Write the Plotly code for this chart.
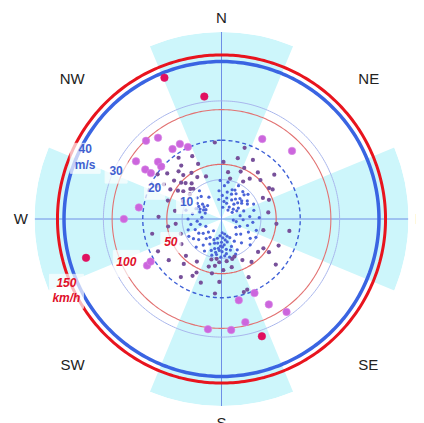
import numpy as np
import plotly.graph_objects as go

# compass labels and the four shaded sectors
compass_labels = ["N", "NE", "E", "SE", "S", "SW", "W", "NW"]
compass_deg = [0, 45, 90, 135, 180, 225, 270, 315]
sector_dir = [0, 90, 180, 270]

# reference rings
ms_rings = [10, 20, 30, 40]
ms_text = ["10", "20", "30", "40<br>m/s"]
kmh_rings = [50, 100, 150]
kmh_text = ["50", "100", "150<br>km/h"]

# observations: direction (deg, clockwise from N) and speed (m/s)
wind_dir = [
    # NNE
    18, 22, 25, 28, 30, 33, 35, 38, 40, 42, 45, 47, 50, 52, 55, 57, 60, 62, 65, 27, 36, 48, 20, 58, 43,
    # N
    2, 5, 8, 10, 355, 352, 12, 358, 6, 14,
    # E-ESE
    70, 75, 80, 85, 88, 92, 96, 100, 104, 108, 112, 116, 120, 124, 128, 132, 136, 140, 95, 118,
    # S
    150, 153, 156, 158, 160, 162, 164, 166, 168, 170, 171, 172, 174, 175, 176, 178, 179, 180, 181, 182,
    184, 185, 186, 188, 189, 190, 192, 193, 195, 196, 198, 200, 165, 173, 183, 177, 168, 187, 194, 161,
    # SW
    205, 208, 212, 215, 218, 222, 225, 228, 232, 235, 238, 242, 245, 248, 252, 256, 260, 214,
    # W-WNW
    265, 270, 275, 280, 284, 288, 290, 292, 295, 297, 299, 301, 303, 305, 308, 311, 314, 318, 322, 330,
    # NW trail
    335, 323, 337, 309, 315, 317, 295, 301, 289, 305, 312, 320, 327, 306, 318, 330, 300, 310, 325, 297,
    340, 314, 308, 319, 303,
    # N / NNE moderate
    2, 8, 15, 22, 28, 35, 38, 18, 45, 50, 60, 68, 30, 12, 355, 24, 57, 63,
    # E moderate
    82, 95, 105, 115, 125, 130, 100,
    # SE moderate
    132, 145, 153, 155, 160, 163, 168, 125,
    # S-SSW moderate
    178, 182, 188, 190, 195, 198, 205, 210, 215, 185,
    # SW-W moderate
    243, 224, 207, 220, 262, 264, 232, 238, 250, 258, 272, 280,
    # strong
    316, 322, 325, 331, 335, 304, 312, 311, 303, 303, 278, 27, 46, 270, 238, 239, 187, 156, 168, 151, 145, 167, 175,
    # storm
    338, 352, 254, 161,
]
wind_speed = [
    4.2, 6.8, 8.1, 5.5, 7.4, 3.6, 6.2, 8.8, 4.9, 7.0, 5.8, 9.2, 3.9, 6.5, 8.0, 5.1, 7.6, 4.4, 9.0, 9.5, 2.8, 6.9, 7.9, 3.2, 8.4,
    6.0, 8.5, 4.5, 9.5, 7.2, 5.0, 7.0, 9.8, 3.0, 5.5,
    6.0, 8.5, 4.8, 7.2, 9.6, 5.5, 8.0, 3.8, 6.8, 9.3, 5.0, 7.6, 4.2, 8.8, 6.2, 9.8, 5.4, 7.9, 3.0, 9.9,
    6.5, 8.8, 5.2, 9.6, 7.4, 4.6, 8.2, 6.0, 9.9, 5.4, 7.8, 8.9, 6.6, 9.4, 4.8, 7.1, 8.3, 5.9, 9.7, 6.9,
    8.0, 4.3, 7.5, 9.1, 6.2, 8.6, 5.0, 7.7, 9.5, 6.4, 8.4, 5.6, 10.5, 10.8, 11.0, 3.5, 3.9, 10.2, 10.6, 10.1,
    7.0, 9.2, 5.5, 8.1, 6.3, 9.6, 4.7, 7.8, 5.9, 8.7, 6.8, 9.4, 4.4, 7.2, 8.9, 5.6, 7.9, 3.6,
    6.2, 8.5, 5.0, 7.5, 9.3, 5.8, 4.4, 7.0, 6.0, 5.1, 6.6, 4.6, 7.3, 5.4, 6.1, 8.2, 4.9, 7.7, 9.1, 6.4,
    17.6, 17.0, 15.2, 15.5, 12.9, 10.5, 10.8, 17.1, 14.4, 19.8, 13.8, 11.8, 14.0, 12.0, 16.3, 12.3, 15.0, 18.0, 19.0, 18.5,
    11.5, 11.0, 10.2, 14.8, 13.2,
    14.5, 12.0, 16.0, 13.0, 17.0, 12.5, 15.0, 19.0, 14.0, 17.5, 15.0, 13.0, 11.0, 10.5, 19.5, 14.2, 14.4, 11.8,
    12.0, 14.0, 11.0, 16.0, 13.0, 18.0, 17.5,
    12.5, 13.3, 11.7, 16.3, 19.1, 19.4, 12.5, 14.7,
    13.0, 16.0, 12.0, 14.0, 12.5, 17.0, 15.0, 12.5, 18.0, 19.0,
    18.1, 13.0, 16.2, 14.9, 13.7, 11.7, 17.0, 12.0, 11.0, 18.0, 16.0, 12.0,
    27.6, 26.2, 21.7, 21.8, 20.2, 26.2, 21.7, 20.3, 23.1, 21.4, 21.2, 22.8, 24.9, 24.8, 22.3, 21.0, 28.2, 20.6, 21.1, 24.8,
    28.8, 26.9, 28.3,
    38.7, 31.4, 35.8, 31.5,
]

d = np.array(wind_dir, dtype=float)
s = np.array(wind_speed, dtype=float)

fig = go.Figure()

fig.add_trace(go.Barpolar(
    theta=sector_dir, r=[47.5] * len(sector_dir), width=[45] * len(sector_dir),
    marker=dict(color="#cdf6fb", line=dict(width=0)), hoverinfo="skip",
))

# cardinal axis lines
for t in sector_dir:
    fig.add_trace(go.Scatterpolar(theta=[t, t], r=[0, 47.5], mode="lines",
                                  line=dict(color="#6f8ee6", width=1), hoverinfo="skip"))

ring_theta = np.linspace(0, 360, 361)
ms_style = {
    10: dict(color="#9eaeea", width=1),
    20: dict(color="#3d5fd6", width=1.4, dash="4px,3px"),
    30: dict(color="#a9b6ec", width=1),
    40: dict(color="#3a64e2", width=3.5),
}
kmh_style = {
    50: dict(color="#e26a6a", width=1.2),
    100: dict(color="#e27272", width=1.1),
    150: dict(color="#e8141e", width=3),
}
for v in ms_rings:
    fig.add_trace(go.Scatterpolar(theta=ring_theta, r=[v] * len(ring_theta), mode="lines",
                                  line=ms_style[v], hoverinfo="skip"))
for v in kmh_rings:
    fig.add_trace(go.Scatterpolar(theta=ring_theta, r=[v / 3.6] * len(ring_theta), mode="lines",
                                  line=kmh_style[v], hoverinfo="skip"))

# points, styled by speed band
bands = [
    (0, 10, "#4b64d8", 3.2),
    (10, 20, "#77509a", 4.2),
    (20, 30, "#cc66dd", 7.5),
    (30, 99, "#e0115f", 7.5),
]
for lo, hi, col, sz in bands:
    m = (s >= lo) & (s < hi)
    fig.add_trace(go.Scatterpolar(
        theta=d[m], r=s[m], mode="markers",
        marker=dict(color=col, size=sz, line=dict(width=0.6 if sz > 5 else 0, color="#d98ae6" if lo == 20 else col)),
    ))

# ring labels with white boxes, nudged off their rings as in the original
ms_shift = [-0.3, -1.4, -0.7, -2.1]
kmh_shift = [0.3, -1.1, 1.8]
fig.add_trace(go.Scatterpolar(
    theta=[294] * len(ms_rings), r=[v + o for v, o in zip(ms_rings, ms_shift)], mode="markers+text",
    text=["<b>%s</b>" % t for t in ms_text], textposition="middle center",
    textfont=dict(family="Liberation Sans", size=12, color="#3f5fd0"),
    marker=dict(symbol="square", color="white", size=[20, 20, 22, 30]),
    hoverinfo="skip",
))
fig.add_trace(go.Scatterpolar(
    theta=[245] * len(kmh_rings), r=[v / 3.6 + o for v, o in zip(kmh_rings, kmh_shift)], mode="markers+text",
    text=["<b><i>%s</i></b>" % t for t in kmh_text], textposition="middle center",
    textfont=dict(family="Liberation Sans", size=12, color="#e0102a"),
    marker=dict(symbol="square", color="white", size=[20, 26, 34]),
    hoverinfo="skip",
))

fig.update_layout(
    width=424, height=423,
    margin=dict(l=26, r=23, t=24, b=25),
    paper_bgcolor="white",
    showlegend=False,
    polar=dict(
        bgcolor="white",
        radialaxis=dict(visible=False, range=[0, 47.5]),
        angularaxis=dict(
            direction="clockwise", rotation=90,
            tickmode="array", tickvals=compass_deg, ticktext=compass_labels,
            showgrid=False, showline=False, ticks="outside", ticklen=3,
            tickcolor="rgba(0,0,0,0)",
            tickfont=dict(family="Liberation Sans", size=15, color="#222222"),
        ),
    ),
)

fig.write_html("out.html")
